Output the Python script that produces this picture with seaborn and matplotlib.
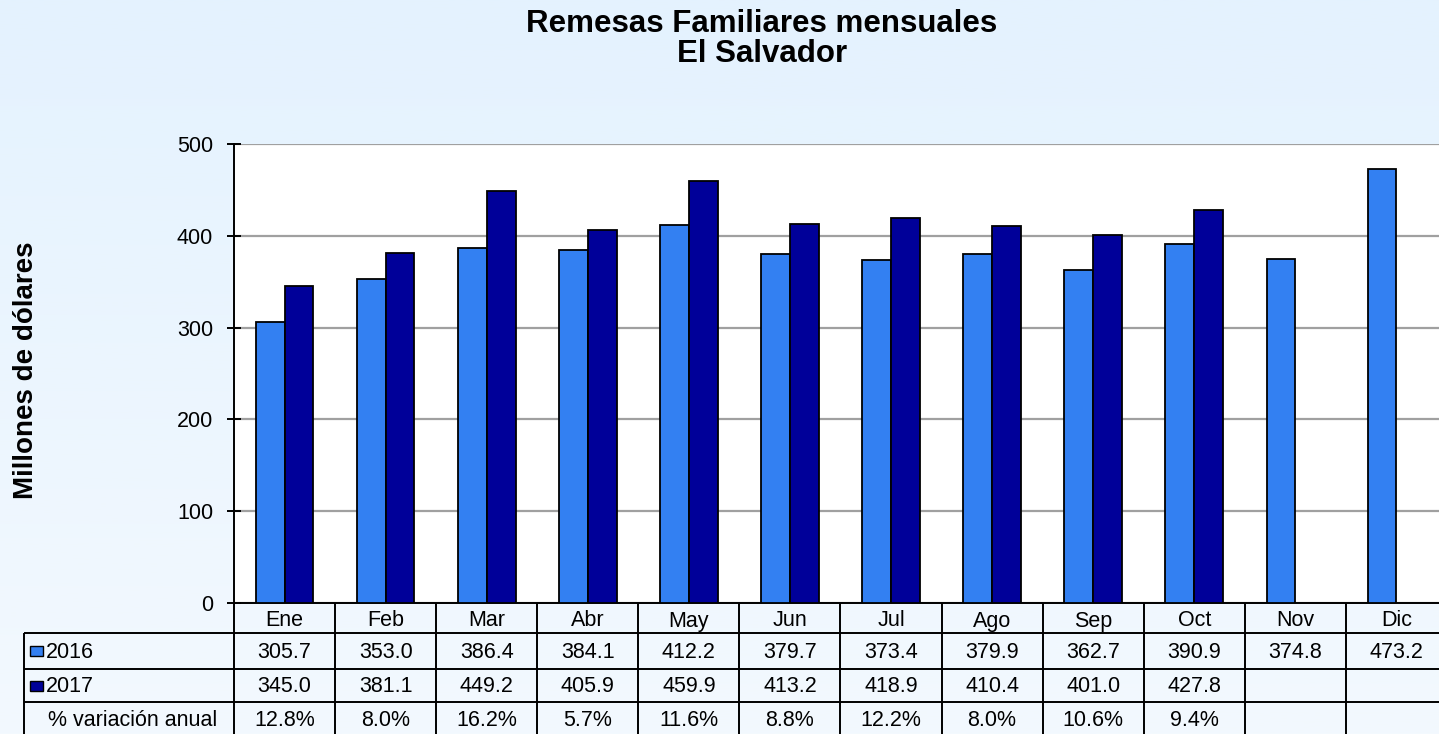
import numpy as np
import pandas as pd
import matplotlib
matplotlib.use("Agg")
import matplotlib.pyplot as plt
import seaborn as sns
from matplotlib.patches import Rectangle

# data
months = ["Ene", "Feb", "Mar", "Abr", "May", "Jun", "Jul", "Ago", "Sep", "Oct", "Nov", "Dic"]
v2016 = [305.7, 353.0, 386.4, 384.1, 412.2, 379.7, 373.4, 379.9, 362.7, 390.9, 374.8, 473.2]
v2017 = [345.0, 381.1, 449.2, 405.9, 459.9, 413.2, 418.9, 410.4, 401.0, 427.8, np.nan, np.nan]
var_anual = ["12.8%", "8.0%", "16.2%", "5.7%", "11.6%", "8.8%", "12.2%", "8.0%", "10.6%", "9.4%", "", ""]
years = ["2016", "2017"]
colors = ["#3380f2", "#000099"]

df = pd.DataFrame({
    "mes": months * 2,
    "anio": [years[0]] * 12 + [years[1]] * 12,
    "valor": v2016 + v2017,
}).dropna()

sns.set_style("white")
plt.rcParams["font.family"] = ["Liberation Sans", "DejaVu Sans"]
plt.rcParams["text.color"] = "black"
plt.rcParams["ytick.color"] = "black"
plt.rcParams["ytick.labelcolor"] = "black"

W, H = 1439, 734
fig = plt.figure(figsize=(W / 100, H / 100), dpi=100)

# gradient background
bg = fig.add_axes([0, 0, 1, 1], zorder=-10)
grad = np.linspace(0, 1, 256).reshape(-1, 1)
top = np.array([0xe4, 0xf2, 0xfe]) / 255
bot = np.array([0xf3, 0xf9, 0xfe]) / 255
img = top + (bot - top) * grad[:, :, None]
bg.imshow(img, aspect="auto", extent=[0, 1, 0, 1])
bg.axis("off")

# pixel layout
x0, x1 = 234, 1447
y_top, y_zero = 144, 603
colw = (x1 - x0) / 12

ax = fig.add_axes([x0 / W, 1 - y_zero / H, (x1 - x0) / W, (y_zero - y_top) / H])
ax.set_facecolor("white")
sns.barplot(data=df, x="mes", y="valor", hue="anio", order=months, hue_order=years,
            palette=colors, saturation=1, width=0.57, edgecolor="black", linewidth=1.3,
            legend=False, ax=ax, zorder=3)
ax.set_xlim(-0.5, 11.5)
ax.set_ylim(0, 500)
ax.set_yticks(range(0, 501, 100))
ax.yaxis.grid(True, color="#a0a0a0", linewidth=1.6, zorder=0)
ax.set_axisbelow(True)
ax.set_xlabel("")
ax.set_ylabel("")
ax.set_xticks([])
for s in ["top", "right"]:
    ax.spines[s].set_visible(False)
for s in ["left", "bottom"]:
    ax.spines[s].set_color("black")
    ax.spines[s].set_linewidth(1.4)
ax.tick_params(axis="y", direction="inout", length=10, width=1.4, color="black",
               labelsize=15.5, pad=10, left=True)

fig.text(26 / W, 1 - 370 / H, "Millones de dólares", rotation=90, ha="center", va="center",
         fontsize=20, fontweight="bold")
fig.text(762 / W, 1 - 32 / H, "Remesas Familiares mensuales", ha="center", va="baseline",
         fontsize=22.5, fontweight="bold")
fig.text(762 / W, 1 - 62 / H, "El Salvador", ha="center", va="baseline",
         fontsize=22.5, fontweight="bold")

# data table under the chart, x in category units
xl = -0.5 - (x0 - 24) / colw
tb = fig.add_axes([24 / W, 0, (x1 - 24) / W, 1 - y_zero / H])
tb.set_xlim(xl, 11.5)
tb.set_ylim(H, y_zero)
tb.axis("off")
rows = [603, 633, 669, 702, 740]
lw = 1.4
for k in range(13):
    tb.vlines(k - 0.5, rows[0], rows[-1], color="black", lw=lw, clip_on=False)
tb.vlines(xl, rows[1], rows[-1], color="black", lw=lw, clip_on=False)
for r in rows[1:4]:
    tb.hlines(r, xl, 11.5, color="black", lw=lw, clip_on=False)

fs = 15.5
for i, m in enumerate(months):
    tb.text(i, (rows[0] + rows[1]) / 2 + 3, m, ha="center", va="center", fontsize=fs)
    tb.text(i, (rows[1] + rows[2]) / 2 + 1, f"{v2016[i]:.1f}", ha="center", va="center", fontsize=fs)
    if not np.isnan(v2017[i]):
        tb.text(i, (rows[2] + rows[3]) / 2 + 1, f"{v2017[i]:.1f}", ha="center", va="center", fontsize=fs)
    tb.text(i, (rows[3] + rows[4]) / 2 - 1, var_anual[i], ha="center", va="center", fontsize=fs)

px = lambda p: xl + (p - 24) / colw
for j, (yr, c) in enumerate(zip(years, colors)):
    yc = (rows[1 + j] + rows[2 + j]) / 2
    tb.add_patch(Rectangle((px(30), yc - 5), px(43) - px(30), 10, facecolor=c,
                           edgecolor="black", lw=1.0, clip_on=False))
    tb.text(px(46), yc + 1, yr, ha="left", va="center", fontsize=fs)
tb.text(px(133), (rows[3] + rows[4]) / 2 - 1, "% variación anual", ha="center", va="center", fontsize=fs)

fig.savefig("out.png", dpi=100)
